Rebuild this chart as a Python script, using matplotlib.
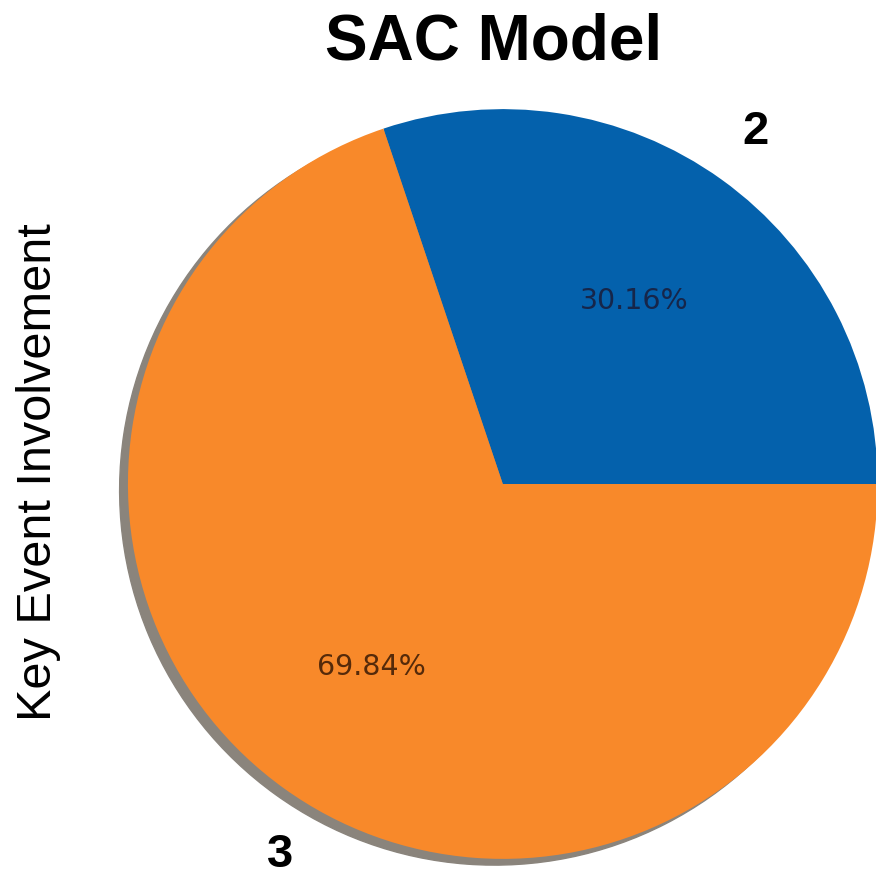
import matplotlib.pyplot as plt

# share of key events by involvement count
labels = ["2", "3"]
shares = [30.16, 69.84]
colors = ["#0461AC", "#F8892A"]
pct_colors = ["#16264A", "#552A0A"]

fig = plt.figure(figsize=(8.76, 8.80), dpi=100)
ax = fig.add_axes([0.146, 0.024, 0.856, 0.852])

wedges, texts, autotexts = ax.pie(
    shares, labels=labels, colors=colors, autopct="%.2f%%",
    startangle=0, counterclock=True,
    shadow={"ox": -0.016, "oy": -0.012, "facecolor": "#8A847C",
            "edgecolor": "#8A847C", "alpha": 1.0},
    labeldistance=1.1, pctdistance=0.6,
    textprops={"fontsize": 20},
)
ax.set_xlim(-1, 1)
ax.set_ylim(-1, 1)
ax.set_aspect("equal")
ax.axis("off")

for t in texts:
    t.set_fontfamily("Liberation Sans")
    t.set_fontweight("bold")
    t.set_fontsize(34)
texts[0].set_position((0.64, 0.94))
texts[1].set_position((-0.56, -0.99))

for t, c in zip(autotexts, pct_colors):
    t.set_color(c)
    t.set_fontsize(20.5)

fig.text(0.563, 0.952, "SAC Model", ha="center", va="center",
         fontsize=46, fontweight="bold", family="Liberation Sans")
fig.text(0.044, 0.463, "Key Event Involvement", ha="center", va="center",
         rotation=90, fontsize=35, family="Liberation Sans")

fig.savefig("out.png", dpi=100)
